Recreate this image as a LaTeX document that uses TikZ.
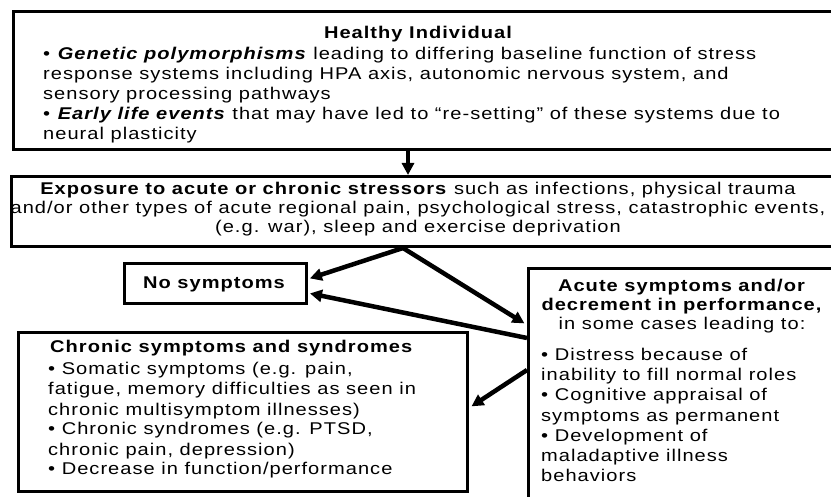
\documentclass[tikz,border=0pt]{standalone}
\usepackage{fontspec}
\setmainfont{Liberation Sans}[FakeStretch=1.18,LetterSpace=6]
\usetikzlibrary{arrows.meta}
\begin{document}
\begin{tikzpicture}[x=1pt,y=-1pt,
  box/.style={draw,line width=3pt,inner sep=0pt,anchor=north west},
  txt/.style={inner sep=0pt,font=\fontsize{17}{20}\selectfont},
  arr/.style={line width=4.5pt,-{Triangle[length=12pt,width=12pt]}}]
\useasboundingbox[fill=white] (0,0) rectangle (831,497);
% boxes
\node[box,minimum width=840pt,minimum height=138pt] (healthy) at (12,10) {};
\node[box,minimum width=840pt,minimum height=70pt] (expo) at (10,175) {};
\node[box,minimum width=182pt,minimum height=40pt] (nosym) at (123,262) {};
\node[box,minimum width=449pt,minimum height=159pt] (chronic) at (17,331) {};
\node[box,minimum width=340pt,minimum height=260pt] (acute) at (527,267) {};
% healthy text
\node[txt,anchor=base] (h0) at (418,39) {\bfseries Healthy Individual};
\foreach \t [count=\i] in {
  {• \textbf{\textit{Genetic polymorphisms}} leading to differing baseline function of stress},
  {response systems including HPA axis, autonomic nervous system, and},
  {sensory processing pathways},
  {• \textbf{\textit{Early life events}} that may have led to “re-setting” of these systems due to},
  {neural plasticity}}
  \node[txt,anchor=base west] (h\i) at (43,39+20.2*\i) {\t};
% exposure text
\foreach \t [count=\i] in {
  {\textbf{Exposure to acute or chronic stressors} such as infections, physical trauma},
  {and/or other types of acute regional pain, psychological stress, catastrophic events,},
  {(e.g. war), sleep and exercise deprivation}}
  \node[txt,anchor=base] (e\i) at (418,176+19*\i) {\t};
% no symptoms
\node[txt,anchor=base] (ns) at (214,289) {\bfseries No symptoms};
% chronic text
\node[txt,anchor=base west] (c0) at (50,353) {\bfseries Chronic symptoms and syndromes};
\foreach \t [count=\i] in {
  {• Somatic symptoms (e.g. pain,},
  {fatigue, memory difficulties as seen in},
  {chronic multisymptom illnesses)},
  {• Chronic syndromes (e.g. PTSD,},
  {chronic pain, depression)},
  {• Decrease in function/performance}}
  \node[txt,anchor=base west] (c\i) at (48,355+20*\i) {\t};
% acute text
\foreach \t [count=\i] in {
  {\textbf{Acute symptoms and/or}},
  {\textbf{decrement in performance,}},
  {in some cases leading to:}}
  \node[txt,anchor=base] (a\i) at (682,273+19*\i) {\t};
\foreach \t [count=\i] in {
  {• Distress because of},
  {inability to fill normal roles},
  {• Cognitive appraisal of},
  {symptoms as permanent},
  {• Development of},
  {maladaptive illness},
  {behaviors}}
  \node[txt,anchor=base west] (r\i) at (541,341+20*\i) {\t};
% connectors
\coordinate (x1) at (408,0);
\coordinate (x2) at (403,0);
\coordinate (n2) at (0,279);
\coordinate (n4) at (0,293);
\coordinate (y3) at (0,325);
\coordinate (y4) at (0,338);
\coordinate (y5) at (0,370);
\coordinate (ch5) at (0,408);
\draw[arr] (x1 |- healthy.south) -- (x1 |- expo.north);
\draw[arr,shorten >=2pt] (x2 |- expo.south) -- (nosym.east |- n2);
\draw[arr,shorten >=3pt] (x2 |- expo.south) -- (acute.west |- y3);
\draw[arr,shorten >=2pt] (acute.west |- y4) -- (nosym.east |- n4);
\draw[arr,shorten >=3pt] (acute.west |- y5) -- (chronic.east |- ch5);
\end{tikzpicture}
\end{document}
